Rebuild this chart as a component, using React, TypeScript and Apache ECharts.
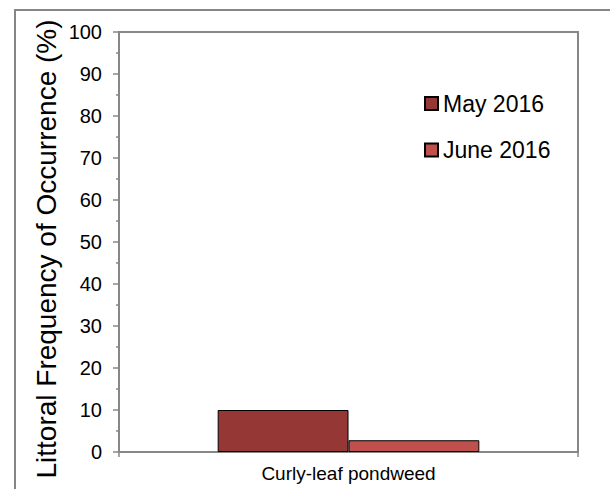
import React, { useEffect, useRef } from "react";
import * as echarts from "echarts";

const categories = ["Curly-leaf pondweed"];
const seriesNames = ["May 2016", "June 2016"];
const mayValues = [10];
const juneValues = [2.8];
const colors = ["#953735", "#C0504D"];
const yAxisTitle = "Littoral Frequency of Occurrence (%)";

export default function App() {
  const ref = useRef<HTMLDivElement>(null);
  useEffect(() => {
    const chart = echarts.init(ref.current!, null, { renderer: "svg" });
    const font = "Liberation Sans, Arial, sans-serif";
    chart.setOption({
      animation: false,
      backgroundColor: "#ffffff",
      textStyle: { fontFamily: font },
      graphic: [
        {
          type: "line",
          shape: { x1: 15, y1: 10, x2: 610, y2: 10 },
          style: { stroke: "#868686", lineWidth: 2 },
          silent: true,
        },
        {
          type: "line",
          shape: { x1: 15, y1: 9, x2: 15, y2: 489 },
          style: { stroke: "#868686", lineWidth: 2 },
          silent: true,
        },
        {
          type: "text",
          x: 46,
          y: 249,
          rotation: Math.PI / 2,
          style: {
            text: yAxisTitle,
            fontSize: 28,
            fontFamily: font,
            fill: "#000",
            align: "center",
            verticalAlign: "middle",
          },
          silent: true,
        },
      ],
      grid: {
        left: 119,
        right: 32,
        top: 32,
        bottom: 37,
        show: true,
        borderColor: "#878787",
        borderWidth: 2,
      },
      legend: {
        orient: "vertical",
        left: 424,
        top: 92,
        padding: 0,
        itemWidth: 13,
        itemHeight: 13,
        itemGap: 23.5,
        icon: "rect",
        textStyle: { fontSize: 23, color: "#000", fontFamily: font },
        data: seriesNames,
      },
      xAxis: {
        type: "category",
        data: categories,
        axisLine: { lineStyle: { color: "#878787", width: 2 } },
        axisTick: { show: true, length: 5, interval: 0, lineStyle: { color: "#878787", width: 1.5 } },
        axisLabel: { fontSize: 19, color: "#000", margin: 12, fontFamily: font },
        splitLine: { show: false },
      },
      yAxis: {
        type: "value",
        min: 0,
        max: 100,
        interval: 10,
        axisLine: { show: true, lineStyle: { color: "#878787", width: 2 } },
        axisTick: { show: true, length: 6, lineStyle: { color: "#878787", width: 1.5 } },
        minorTick: { show: true, splitNumber: 2, length: 3, lineStyle: { color: "#878787", width: 1.5 } },
        axisLabel: { fontSize: 20, color: "#000", margin: 17, fontFamily: font },
        splitLine: { show: false },
      },
      series: [
        {
          name: seriesNames[0],
          type: "bar",
          data: mayValues,
          barGap: "0%",
          barCategoryGap: "43%",
          itemStyle: { color: colors[0], borderColor: "#000", borderWidth: 1 },
        },
        {
          name: seriesNames[1],
          type: "bar",
          data: juneValues,
          barGap: "0%",
          barCategoryGap: "43%",
          itemStyle: { color: colors[1], borderColor: "#000", borderWidth: 1 },
        },
      ],
    });
    return () => chart.dispose();
  }, []);
  return <div ref={ref} style={{ width: 610, height: 489, position: "absolute", left: 0, top: 0 }} />;
}
